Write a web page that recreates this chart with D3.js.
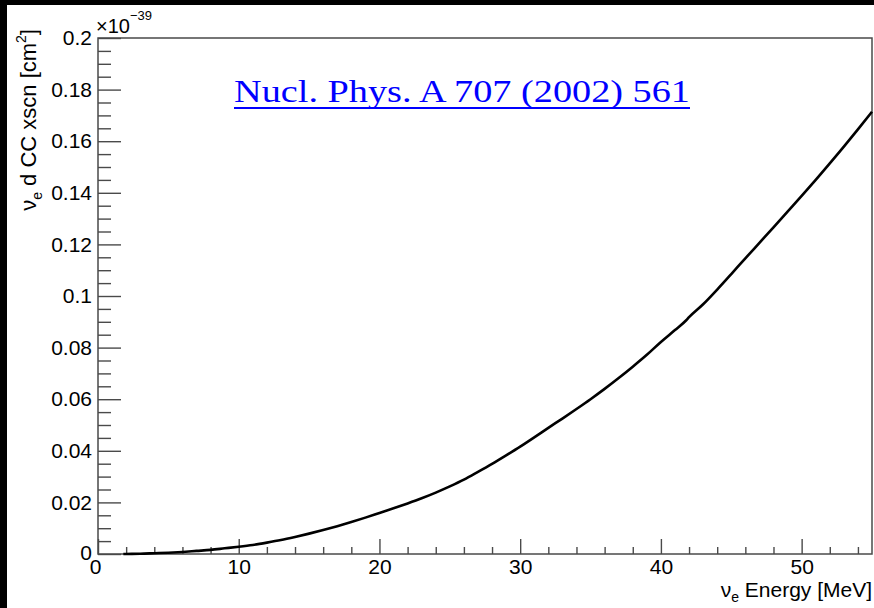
<!DOCTYPE html>
<html>
<head>
<meta charset="utf-8">
<script src="https://cdn.jsdelivr.net/npm/d3@7"></script>
<style>
  html, body { margin: 0; padding: 0; background: #000; }
  svg { display: block; }
  text { font-family: "Liberation Sans", Arial, Helvetica, sans-serif; fill: #000; }
</style>
</head>
<body>
<script>
// nu_e d CC cross section (units of 1e-39 cm^2) vs neutrino energy (MeV)
var energy = [1.8, 2, 3, 4, 5, 6, 7, 8, 9, 10, 11, 12, 13, 14, 15, 16, 17, 18, 19, 20,
              21, 22, 23, 24, 25, 26, 27, 28, 29, 30, 31, 32, 33, 34, 35, 36, 37, 38, 39, 40,
              41, 41.8, 42, 43, 44, 45, 46, 47, 48, 49, 50, 51, 52, 53, 54, 55];
var xscn = [0, 0.00002, 0.0001, 0.0003, 0.0005, 0.0008, 0.0012, 0.0016, 0.0022, 0.0028,
            0.0035, 0.0044, 0.0054, 0.0066, 0.0079, 0.0093, 0.0108, 0.0124, 0.0141, 0.0159,
            0.0177, 0.0196, 0.0216, 0.0238, 0.0262, 0.0288, 0.0318, 0.0349, 0.0382, 0.0416,
            0.0452, 0.0489, 0.0525, 0.0562, 0.0600, 0.0640, 0.0682, 0.0726, 0.0772, 0.0822,
            0.0868, 0.0906, 0.0918, 0.0968, 0.1025, 0.1085, 0.1146, 0.1206, 0.1266, 0.1327,
            0.1388, 0.1450, 0.1514, 0.1579, 0.1646, 0.1714];
var xTicks = [0, 10, 20, 30, 40, 50];
var yTicks = [0, 0.02, 0.04, 0.06, 0.08, 0.1, 0.12, 0.14, 0.16, 0.18, 0.2];
var titleText = "Nucl. Phys. A 707 (2002) 561";

var W = 874, H = 608;
var margin = {top: 38, right: 2, bottom: 54, left: 98},
    width = W - margin.left - margin.right,
    height = H - margin.top - margin.bottom;

var svg = d3.select("body").append("svg")
    .attr("width", W)
    .attr("height", H);

// black border strip on top/left, white canvas
svg.append("rect").attr("width", W).attr("height", H).attr("fill", "#000");
svg.append("rect").attr("x", 7).attr("y", 5).attr("width", W - 7).attr("height", H - 5).attr("fill", "#fff");

var x = d3.scaleLinear().domain([0, 55]).range([0, width]),
    y = d3.scaleLinear().domain([0, 0.2]).range([height, 0]);

var g = svg.append("g")
    .attr("transform", "translate(" + margin.left + "," + margin.top + ")");

var axisColor = "#4a4a4a";

// minor ticks
var xMinor = d3.range(0, 55.01, 2).filter(function(v) { return v % 10 !== 0; });
var yMinor = d3.range(0, 0.2001, 0.005).filter(function(v) { return Math.abs(v / 0.02 - Math.round(v / 0.02)) > 1e-6; });

var xAxis = d3.axisBottom(x).tickValues(xTicks).tickSize(-15).tickPadding(5).tickFormat(d3.format("d"));
var xAxisMinor = d3.axisBottom(x).tickValues(xMinor).tickSize(-7).tickFormat("");
var yAxis = d3.axisLeft(y).tickValues(yTicks).tickSize(-23).tickPadding(6)
    .tickFormat(function(d) { return d === 0 ? "0" : d3.format("~g")(d); });
var yAxisMinor = d3.axisLeft(y).tickValues(yMinor).tickSize(-13).tickFormat("");

function styleAxis(sel) {
  sel.select(".domain").remove();
  sel.selectAll(".tick line").attr("stroke", axisColor).attr("stroke-width", 1.4);
  sel.selectAll(".tick text")
      .attr("fill", "#000")
      .style("font-family", "'Liberation Sans', Arial, sans-serif")
      .style("font-size", "21px");
}

g.append("g").attr("class", "x axis").attr("transform", "translate(0," + height + ")").call(xAxis).call(styleAxis);
g.append("g").attr("class", "x axis minor").attr("transform", "translate(0," + height + ")").call(xAxisMinor).call(styleAxis);
g.append("g").attr("class", "y axis").call(yAxis).call(styleAxis);
g.append("g").attr("class", "y axis minor").call(yAxisMinor).call(styleAxis);

// nudge the zero labels like the reference
g.selectAll(".x.axis .tick text").filter(function(d) { return d === 0; }).attr("dx", -3);
g.selectAll(".y.axis .tick text").filter(function(d) { return d === 0; }).attr("dy", "0.25em");

// frame
g.append("rect")
    .attr("width", width)
    .attr("height", height)
    .attr("fill", "none")
    .attr("stroke", axisColor)
    .attr("stroke-width", 1.5);

// curve
var pts = energy.map(function(e, i) { return {e: e, v: xscn[i]}; });
var line = d3.line()
    .x(function(d) { return x(d.e); })
    .y(function(d) { return y(d.v); })
    .curve(d3.curveMonotoneX);

g.append("path")
    .datum(pts)
    .attr("d", line)
    .attr("fill", "none")
    .attr("stroke", "#000")
    .attr("stroke-width", 2.6);

// exponent label
var expo = svg.append("text")
    .attr("x", margin.left - 2)
    .attr("y", 33)
    .style("font-size", "20px");
expo.append("tspan").text("\u00d710");
expo.append("tspan").attr("dy", -13).style("font-size", "13px").text("\u221239");

// y label
var ylab = svg.append("text")
    .attr("transform", "translate(36," + (margin.top - 9) + ") rotate(-90)")
    .attr("text-anchor", "end")
    .style("font-size", "22px");
ylab.append("tspan").text("\u03bd");
ylab.append("tspan").attr("dy", 6).style("font-size", "14px").text("e");
ylab.append("tspan").attr("dy", -6).text(" d CC xscn [cm");
ylab.append("tspan").attr("dy", -10).style("font-size", "14px").text("2");
ylab.append("tspan").attr("dy", 10).text("]");

// x label
var xlab = svg.append("text")
    .attr("x", W - 2)
    .attr("y", 597)
    .attr("text-anchor", "end")
    .style("font-size", "21px");
xlab.append("tspan").text("\u03bd");
xlab.append("tspan").attr("dy", 5).style("font-size", "14px").text("e");
xlab.append("tspan").attr("dy", -5).text(" Energy [MeV]");

// reference title (blue, underlined serif)
var title = svg.append("text")
    .attr("x", 234)
    .attr("y", 102)
    .attr("textLength", 456)
    .attr("lengthAdjust", "spacingAndGlyphs")
    .style("font-family", "'Liberation Serif', 'Times New Roman', serif")
    .style("font-size", "32px")
    .style("fill", "#0000ff")
    .text(titleText);

svg.append("line")
    .attr("x1", 234).attr("x2", 690)
    .attr("y1", 108).attr("y2", 108)
    .attr("stroke", "#0000ff")
    .attr("stroke-width", 2);
</script>
</body>
</html>
